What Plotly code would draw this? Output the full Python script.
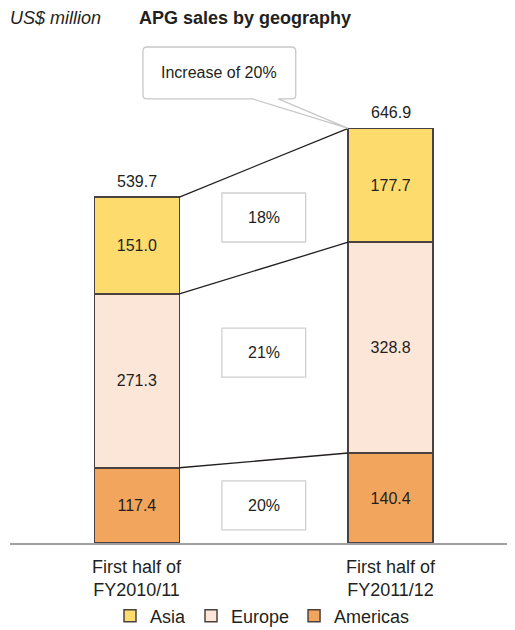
"""
APG sales by geography
Stacked bars with connectors between the two half-years
"""

import plotly.graph_objects as go

# data
periods = ["First half of<br>FY2010/11", "First half of<br>FY2011/12"]
regions = ["Americas", "Europe", "Asia"]  # bottom to top
americas = [117.4, 140.4]
europe = [271.3, 328.8]
asia = [151.0, 177.7]
totals = [539.7, 646.9]
growth_labels = ["20%", "21%", "18%"]  # Americas, Europe, Asia
callout_text = "Increase of 20%"

colors = {"Asia": "#FDDB6D", "Europe": "#FBE6D8", "Americas": "#F2A55C"}
ink = "#231f20"
font_family = "Liberation Sans, Arial, sans-serif"

x_pos = list(range(len(periods)))
bar_w = 0.335
hw = bar_w / 2

fig = go.Figure()

series = {"Americas": americas, "Europe": europe, "Asia": asia}
for name in regions:
    vals = series[name]
    fig.add_trace(
        go.Bar(
            x=x_pos,
            y=vals,
            width=bar_w,
            name=name,
            marker=dict(color=colors[name], line=dict(color="#4a4240", width=1.5)),
            text=[f"{v:.1f}" for v in vals],
            textposition="inside",
            insidetextanchor="middle",
            textangle=0,
            constraintext="none",
            textfont=dict(size=16, color=ink, family=font_family),
            hoverinfo="skip",
        )
    )

shapes = []

# connector lines between the stacked boundaries
left_levels = [americas[0], americas[0] + europe[0], americas[0] + europe[0] + asia[0]]
right_levels = [americas[1], americas[1] + europe[1], americas[1] + europe[1] + asia[1]]
for y0, y1 in zip(left_levels, right_levels):
    shapes.append(
        dict(
            type="line",
            xref="x",
            yref="y",
            x0=x_pos[0] + hw,
            y0=y0,
            x1=x_pos[1] - hw,
            y1=y1,
            line=dict(color=ink, width=1.3),
        )
    )

# growth boxes in the gap between bars
box_y = [58.6, 297.0, 507.8]
box_hx = 0.165
box_hy = 38.2
annotations = []
gap_x = (x_pos[0] + x_pos[1]) / 2
for label, by in zip(growth_labels, box_y):
    shapes.append(
        dict(
            type="rect",
            xref="x",
            yref="y",
            x0=gap_x - box_hx,
            x1=gap_x + box_hx,
            y0=by - box_hy,
            y1=by + box_hy,
            line=dict(color="#cfcfcf", width=1.3),
            fillcolor="white",
        )
    )
    annotations.append(
        dict(
            x=gap_x,
            y=by,
            xref="x",
            yref="y",
            text=label,
            showarrow=False,
            font=dict(size=16, color=ink, family=font_family),
        )
    )

# callout bubble pointing at the top of the second bar
L, R, T, B = 0.024, 0.626, 773.8, 692.7
rx, ry = 0.016, 6.2
tail_l, tail_r = 0.457, 0.557
tip_x, tip_y = x_pos[1] - hw, totals[1]
path = (
    f"M {L + rx},{T} L {R - rx},{T} Q {R},{T} {R},{T - ry} "
    f"L {R},{B + ry} Q {R},{B} {R - rx},{B} "
    f"L {tail_r},{B} L {tip_x},{tip_y} L {tail_l},{B} "
    f"L {L + rx},{B} Q {L},{B} {L},{B + ry} "
    f"L {L},{T - ry} Q {L},{T} {L + rx},{T} Z"
)
shapes.append(
    dict(
        type="path",
        xref="x",
        yref="y",
        path=path,
        line=dict(color="#c8c8c8", width=1.3),
        fillcolor="white",
    )
)
annotations.append(
    dict(
        x=(L + R) / 2,
        y=(T + B) / 2,
        xref="x",
        yref="y",
        text=callout_text,
        showarrow=False,
        font=dict(size=16, color=ink, family=font_family),
    )
)

# totals above bars
for xp, tot in zip(x_pos, totals):
    annotations.append(
        dict(
            x=xp,
            y=tot,
            xref="x",
            yref="y",
            text=f"{tot:.1f}",
            showarrow=False,
            yanchor="bottom",
            yshift=5,
            font=dict(size=16, color=ink, family=font_family),
        )
    )

# category labels under the axis
for xp, lab in zip(x_pos, periods):
    annotations.append(
        dict(
            x=xp,
            y=0,
            xref="x",
            yref="paper",
            text=lab,
            showarrow=False,
            yanchor="top",
            yshift=-12,
            align="center",
            font=dict(size=18, color=ink, family=font_family),
        )
    )

# headings
annotations.append(
    dict(
        x=-0.004,
        y=1.0437,
        xref="paper",
        yref="paper",
        text="<i>US$ million</i>",
        showarrow=False,
        xanchor="left",
        yanchor="middle",
        font=dict(size=18, color=ink, family=font_family),
    )
)
annotations.append(
    dict(
        x=0.2515,
        y=1.0437,
        xref="paper",
        yref="paper",
        text="<b>APG sales by geography</b>",
        showarrow=False,
        xanchor="left",
        yanchor="middle",
        font=dict(size=18, color=ink, family=font_family),
    )
)

# page body adds an 8px margin, so the figure is 8px smaller each way
fig.update_layout(
    width=507,
    height=622,
    margin=dict(l=2, r=0, t=32, b=87, autoexpand=False),
    barmode="stack",
    plot_bgcolor="white",
    paper_bgcolor="white",
    font=dict(family=font_family, color=ink),
    xaxis=dict(
        range=[-0.5, 1.49],
        showgrid=False,
        zeroline=False,
        showticklabels=False,
        showline=True,
        linecolor="#a0a0a0",
        linewidth=2,
        fixedrange=True,
    ),
    yaxis=dict(range=[0, 784.7], visible=False, fixedrange=True),
    shapes=shapes,
    annotations=annotations,
    showlegend=True,
    legend=dict(
        orientation="h",
        x=0.5,
        xanchor="center",
        y=-0.145,
        yanchor="middle",
        traceorder="reversed",
        font=dict(size=18, color=ink, family=font_family),
        itemclick=False,
    ),
)

fig.write_html("out.html")
